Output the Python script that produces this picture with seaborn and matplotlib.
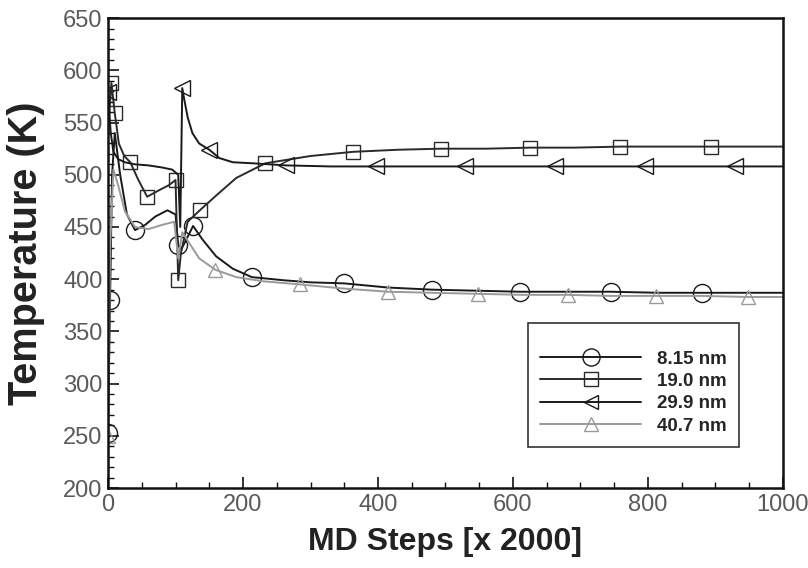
import matplotlib
matplotlib.use("Agg")
import matplotlib.pyplot as plt
from matplotlib.lines import Line2D
from matplotlib.ticker import MultipleLocator
import seaborn as sns
import pandas as pd

# ---- data ----
labels = ["8.15 nm", "19.0 nm", "29.9 nm", "40.7 nm"]

c_x = [0, 3, 6, 10, 18, 28, 40, 55, 70, 88, 100, 104, 108, 116, 126, 140, 160, 185, 213, 260,
       300, 350, 415, 480, 545, 610, 680, 745, 815, 880, 950, 1000]
c_y = [253, 380, 500, 540, 500, 462, 447, 452, 460, 466, 462, 433, 428, 438, 451, 438, 422, 410, 402, 399,
       397, 396, 392, 390, 389, 388, 388, 388, 387, 387, 387, 387]
c_mark = [0, 1, 6, 11, 14, 18, 21, 23, 25, 27, 29]

s_x = [0, 5, 10, 16, 24, 33, 45, 58, 75, 90, 100, 104, 108, 118, 136, 160, 190, 233, 300, 363,
       430, 493, 560, 625, 690, 759, 825, 893, 1000]
s_y = [540, 588, 559, 530, 518, 512, 495, 479, 485, 490, 495, 399, 425, 455, 466, 480, 497, 511, 518, 522,
       524, 525, 525, 526, 526, 527, 527, 527, 527]
s_mark = [1, 2, 5, 7, 10, 11, 14, 17, 19, 21, 23, 25, 27]

t_x = [0, 4, 8, 15, 25, 40, 60, 80, 95, 104, 107, 110, 113, 118, 125, 135, 150, 165, 185, 215,
       264, 330, 397, 463, 529, 596, 662, 729, 796, 862, 929, 1000]
t_y = [579, 540, 522, 515, 512, 510, 509, 507, 505, 500, 450, 583, 572, 555, 540, 530, 524, 516, 512, 511,
       509, 508, 508, 508, 508, 508, 508, 508, 508, 508, 508, 508]
t_mark = [0, 11, 16, 20, 22, 24, 26, 28, 30]

g_x = [0, 3, 8, 15, 25, 40, 60, 80, 98, 104, 110, 120, 135, 159, 190, 230, 284, 350, 415, 480,
       548, 615, 681, 745, 812, 880, 948, 1000]
g_y = [250, 430, 505, 490, 465, 450, 448, 452, 455, 420, 445, 435, 420, 409, 402, 398, 395, 391, 388, 387,
       386, 385, 385, 384, 384, 384, 383, 383]
g_mark = [0, 13, 16, 18, 20, 22, 24, 26]

x_ticks = [0, 200, 400, 600, 800, 1000]
y_ticks = [200, 250, 300, 350, 400, 450, 500, 550, 600, 650]

# ---- styling ----
sns.set_theme(style="ticks")
plt.rcParams["font.family"] = ["Liberation Sans", "DejaVu Sans"]

series = [
    (c_x, c_y, c_mark, "o", 13, "#1a1a1a"),
    (s_x, s_y, s_mark, "s", 10, "#2a2a2a"),
    (t_x, t_y, t_mark, "<", 11, "#1a1a1a"),
    (g_x, g_y, g_mark, "^", 10, "#9a9a9a"),
]

fig = plt.figure(figsize=(8.08, 5.68), dpi=100)
ax = fig.add_axes([0.1337, 0.1408, 0.969 - 0.1337, 0.968 - 0.1408])

handles = []
for (xs, ys, mk, m, ms, col), lab in zip(series, labels):
    df = pd.DataFrame({"x": xs, "y": ys})
    sns.lineplot(data=df, x="x", y="y", ax=ax, sort=False, estimator=None,
                 color=col, linewidth=1.4, marker=m, markersize=ms,
                 markevery=mk, fillstyle="none", markeredgewidth=1.0,
                 markeredgecolor=col, legend=False)
    handles.append(Line2D([], [], color=col, linewidth=1.4, marker=m,
                          markersize=ms * 0.95, fillstyle="none",
                          markeredgewidth=1.0, markeredgecolor=col))

ax.set_xlim(0, 1000)
ax.set_ylim(200, 650)
ax.set_xticks(x_ticks)
ax.set_yticks(y_ticks)
ax.xaxis.set_minor_locator(MultipleLocator(50))
ax.yaxis.set_minor_locator(MultipleLocator(10))
ax.tick_params(axis="both", which="major", direction="in", length=8, width=1.2,
               labelsize=17, labelcolor="#5a5a5a", color="#111111", pad=4)
ax.tick_params(axis="both", which="minor", direction="in", length=4, width=1.0,
               color="#111111")
for sp in ax.spines.values():
    sp.set_linewidth(1.8)
    sp.set_color("#111111")

ax.set_xlabel("MD Steps [x 2000]", fontsize=23, fontweight="bold", color="#222222", labelpad=8)
ax.set_ylabel("Temperature (K)", fontsize=28.5, fontweight="bold", color="#222222")
ax.yaxis.set_label_coords(-0.094, 0.5)

leg = ax.legend(handles, labels, loc="upper left", bbox_to_anchor=(0.622, 0.351),
                frameon=True, fancybox=False, edgecolor="#333333", framealpha=1,
                prop={"family": ["Liberation Sans"], "weight": "bold", "size": 13.5},
                title=" ", title_fontsize=8,
                handlelength=5.4, handletextpad=0.85, labelspacing=0.28,
                borderpad=0.65, borderaxespad=0.0, numpoints=1)
leg.get_frame().set_linewidth(1.2)

fig.savefig("out.png", dpi=100)
